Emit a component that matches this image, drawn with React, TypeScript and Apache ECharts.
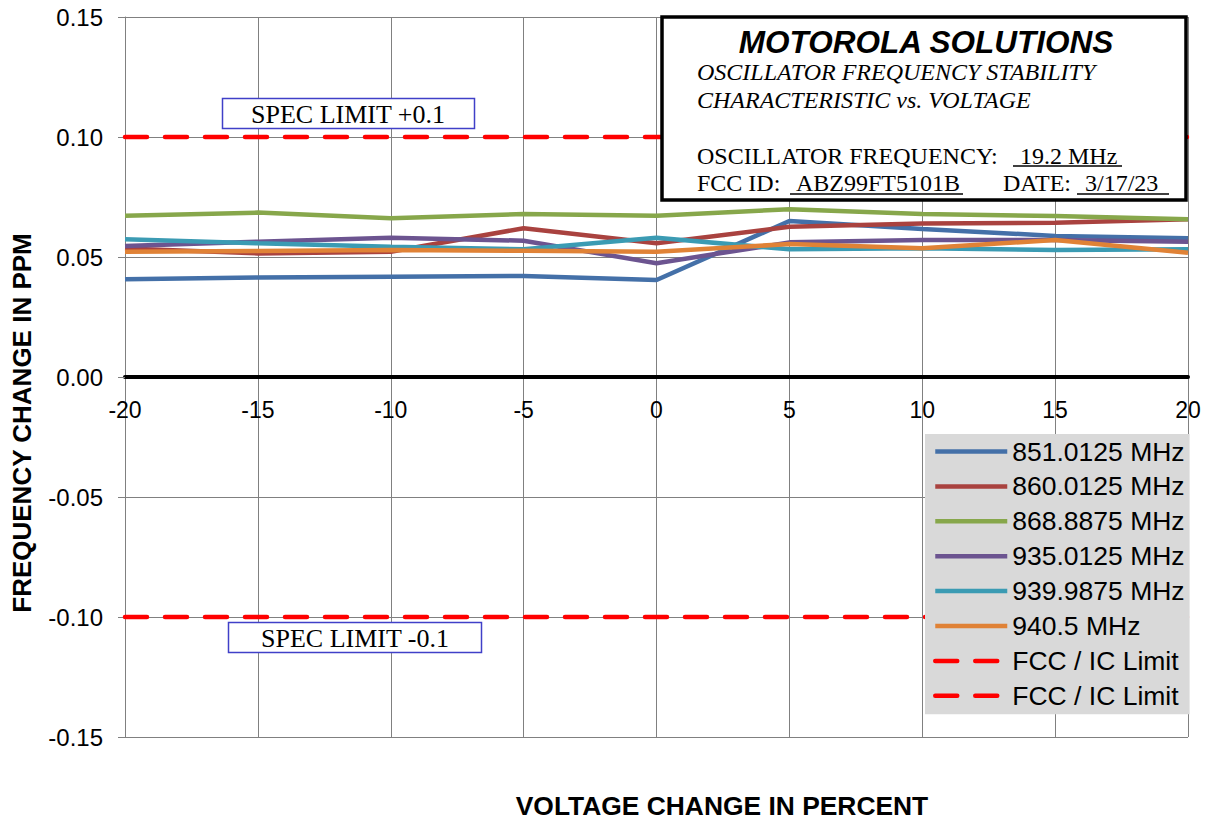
import React, { useEffect, useRef } from "react";
import * as echarts from "echarts";

const xValues = [-20, -15, -10, -5, 0, 5, 10, 15, 20];
const s851 = [0.0407, 0.0415, 0.0418, 0.0421, 0.0404, 0.065, 0.0617, 0.0588, 0.0578];
const s860 = [0.0535, 0.0515, 0.0522, 0.062, 0.0557, 0.0626, 0.064, 0.0643, 0.0657];
const s868 = [0.0672, 0.0685, 0.0661, 0.0679, 0.0672, 0.0699, 0.0679, 0.0671, 0.0657];
const s935 = [0.0546, 0.0564, 0.058, 0.0568, 0.0474, 0.0561, 0.0571, 0.0571, 0.0564];
const s9399 = [0.0574, 0.0557, 0.0543, 0.0532, 0.058, 0.0532, 0.0536, 0.0529, 0.0532];
const s9405 = [0.0522, 0.0525, 0.0529, 0.0526, 0.0522, 0.0554, 0.0536, 0.0571, 0.0518];
const limitUpper = [0.1, 0.1, 0.1, 0.1, 0.1, 0.1, 0.1, 0.1, 0.1];
const limitLower = [-0.1, -0.1, -0.1, -0.1, -0.1, -0.1, -0.1, -0.1, -0.1];

const seriesNames = [
  "851.0125 MHz",
  "860.0125 MHz",
  "868.8875 MHz",
  "935.0125 MHz",
  "939.9875 MHz",
  "940.5 MHz",
];
const seriesValues = [s851, s860, s868, s935, s9399, s9405];
const seriesColors = ["#4470a8", "#a9423f", "#87a74b", "#6c5490", "#3b9bb3", "#e08236"];
const limitName = "FCC / IC Limit";

const SANS = "'Liberation Sans', Arial, sans-serif";
const SERIF = "'Liberation Serif', 'Times New Roman', serif";

function pairs(vals: number[]) {
  return xValues.map((x, i) => [x, vals[i]]);
}

export default function App() {
  const ref = useRef<HTMLDivElement>(null);
  useEffect(() => {
    if (!ref.current) return;
    const chart = echarts.init(ref.current, undefined, { renderer: "svg" });

    const lineSeries: any[] = seriesNames.map((name, i) => ({
      name,
      type: "line",
      data: pairs(seriesValues[i]),
      symbol: "none",
      color: seriesColors[i],
      lineStyle: { color: seriesColors[i], width: 4.5 },
      z: 3,
    }));
    const limitSeries: any[] = [
      { name: limitName, vals: limitUpper },
      { name: limitName + " #2", vals: limitLower },
    ].map((s) => ({
      name: s.name,
      type: "line",
      data: pairs(s.vals),
      symbol: "none",
      color: "#ff0000",
      lineStyle: { color: "#ff0000", width: 4.5, type: [22, 18], cap: "round" },
      z: 3,
    }));

    const textEl = (text: string, x: number, y: number, font: string, align = "left", extra: any = {}) => ({
      type: "text",
      z: 100,
      x,
      y,
      ...extra,
      style: { text, font, fill: "#000", align, verticalAlign: "middle" },
    });
    const lineEl = (x1: number, y1: number, x2: number, y2: number, w = 1.5) => ({
      type: "line",
      z: 100,
      shape: { x1, y1, x2, y2 },
      style: { stroke: "#000", lineWidth: w },
    });

    chart.setOption({
      animation: false,
      backgroundColor: "#ffffff",
      grid: { left: 125, right: 23, top: 17, bottom: 84, containLabel: false },
      xAxis: {
        type: "value",
        min: -20,
        max: 20,
        interval: 5,
        offset: -360,
        axisLine: { onZero: false, lineStyle: { color: "#000", width: 4 } },
        axisTick: { show: false },
        axisLabel: {
          color: "#000",
          fontFamily: SANS,
          fontSize: 23,
          margin: 21,
          showMinLabel: true,
          showMaxLabel: true,
        },
        splitLine: { show: true, lineStyle: { color: "#808080", width: 1 } },
      },
      yAxis: {
        type: "value",
        min: -0.15,
        max: 0.15,
        interval: 0.05,
        axisLine: { show: true, onZero: false, lineStyle: { color: "#808080", width: 1 } },
        axisTick: { show: true, inside: false, length: 7, lineStyle: { color: "#808080" } },
        axisLabel: {
          color: "#000",
          fontFamily: SANS,
          fontSize: 24,
          margin: 22,
          formatter: (v: number) => v.toFixed(2),
        },
        splitLine: { show: true, lineStyle: { color: "#808080", width: 1 } },
      },
      legend: {
        orient: "vertical",
        left: 925,
        top: 434,
        backgroundColor: "#d9d9d9",
        padding: [4, 5, 5, 8],
        itemWidth: 72,
        itemHeight: 14,
        itemGap: 7.9,
        itemStyle: { opacity: 0 },
        lineStyle: { width: 4.5, opacity: 1 },
        data: [...seriesNames, limitName, limitName + " #2"],
        formatter: (n: string) => n.replace(/ #2$/, ""),
        textStyle: { color: "#000", fontFamily: SANS, fontSize: 26.5, lineHeight: 24 },
      },
      series: [...lineSeries, ...limitSeries],
      graphic: [
        // axis titles
        textEl("FREQUENCY CHANGE IN PPM", 22, 423, `bold 26px ${SANS}`, "center", { rotation: Math.PI / 2 }),
        textEl("VOLTAGE CHANGE IN PERCENT", 722, 806, `bold 26.4px ${SANS}`, "center"),
        // title box
        {
          type: "rect",
          z: 99,
          shape: { x: 662, y: 17, width: 524, height: 183 },
          style: { fill: "#fff", stroke: "#000", lineWidth: 3.5 },
        },
        textEl("MOTOROLA SOLUTIONS", 926, 42, `italic bold 31.5px ${SANS}`, "center"),
        textEl("OSCILLATOR FREQUENCY STABILITY", 697, 72, `italic 24px ${SERIF}`),
        textEl("CHARACTERISTIC vs. VOLTAGE", 697, 100, `italic 24px ${SERIF}`),
        textEl("OSCILLATOR FREQUENCY:", 697, 156, `24px ${SERIF}`),
        textEl("19.2 MHz", 1020, 156, `24px ${SERIF}`),
        lineEl(1013, 166, 1122, 166),
        textEl("FCC ID:", 697, 183, `24px ${SERIF}`),
        textEl("ABZ99FT5101B", 796, 183, `24px ${SERIF}`),
        lineEl(790, 194, 963, 194),
        textEl("DATE:", 1003, 183, `24px ${SERIF}`),
        textEl("3/17/23", 1085, 183, `24px ${SERIF}`),
        lineEl(1077, 194, 1169, 194),
        // spec limit labels
        {
          type: "rect",
          z: 99,
          shape: { x: 222.5, y: 98.5, width: 252, height: 30 },
          style: { fill: "#fff", stroke: "#4040c8", lineWidth: 1.5 },
        },
        textEl("SPEC LIMIT +0.1", 348, 114, `26px ${SERIF}`, "center"),
        {
          type: "rect",
          z: 99,
          shape: { x: 228.5, y: 622.5, width: 253, height: 30 },
          style: { fill: "#fff", stroke: "#4040c8", lineWidth: 1.5 },
        },
        textEl("SPEC LIMIT -0.1", 355, 638, `26px ${SERIF}`, "center"),
      ],
    });
    return () => chart.dispose();
  }, []);
  return (
    <div
      ref={ref}
      style={{ position: "absolute", left: 0, top: 0, width: 1211, height: 821, background: "#fff" }}
    />
  );
}
